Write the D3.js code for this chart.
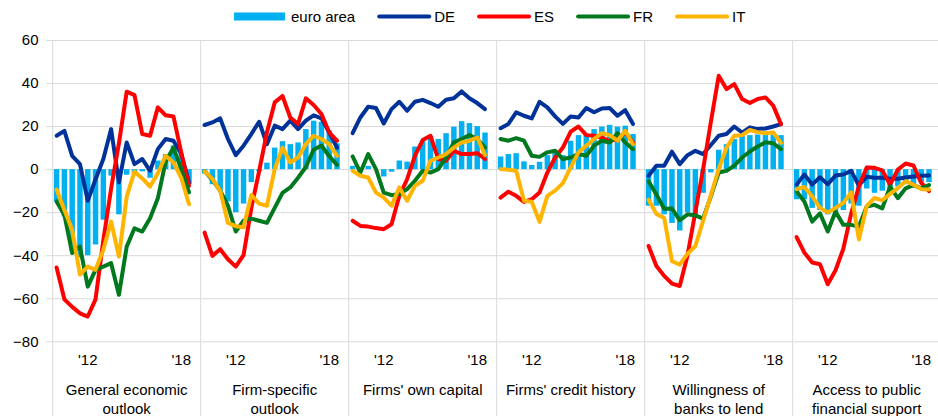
<!DOCTYPE html>
<html><head><meta charset="utf-8">
<script src="https://cdn.jsdelivr.net/npm/d3@7/dist/d3.min.js"></script>
<style>
body{margin:0;background:#fff}
svg{display:block;font-family:"Liberation Sans",Arial,sans-serif}
</style>
</head><body>
<svg id="chart" width="938" height="416"></svg>
<script>
// ---------- data ----------
const panels = ["General economic outlook","Firm-specific outlook","Firms' own capital","Firms' credit history","Willingness of banks to lend","Access to public financial support"];
const panelLabels = [["General economic","outlook"],["Firm-specific","outlook"],["Firms' own capital"],["Firms' credit history"],["Willingness of","banks to lend"],["Access to public","financial support"]];
const periods = ["2010H1","2010H2","2011H1","2011H2","2012H1","2012H2","2013H1","2013H2","2014H1","2014H2","2015H1","2015H2","2016H1","2016H2","2017H1","2017H2","2018H1","2018H2"];
const tickPeriods = ["2012H1","2018H1"];
const tickLabels = ["'12","'18"];
const yTicks = [60,40,20,0,-20,-40,-60,-80];
const seriesNames = ["euro area","DE","ES","FR","IT"];

const euroArea = [
  [-15,-22,-38,-41,-40,-35,-23.5,-3,-21,-2.6,-2,-1,-4,4,7,11,7,-7],
  [-2,-7,-10,-15,-20,-16,-6,-1,3,10,13,11.6,12.4,18.6,22.5,22,18,12],
  [1.5,0.5,1.5,0,-3.4,-1.2,4,3.5,10.5,13,15.5,14,16.7,19.7,22.3,21.4,20,17],
  [5.9,7,7.4,3.6,1.9,3.4,6.5,9,6.5,13.2,15.8,16.3,18.6,19.8,20.6,19.8,20.2,16.3],
  [-17,-17,-21,-25,-28.5,-20,-22,-11,-1.5,9,11.6,14,15.5,15.8,16.1,16,16,15.8],
  [-14,-14,-18,-19,-21,-20,-19,-16,-17,-9,-11,-10,-10,-8,-7,-7,-6,-6]
];
const DE = [
  [15.5,17.8,6.2,2.3,-14.7,-4.7,4.7,18.6,-6.2,12.4,2.3,4.7,-0.8,9.3,14,13.2,7,-6.2],
  [20.5,21.7,23.6,14,6.5,10.9,16.3,22,11.6,20.2,18.6,22.5,18.6,22.5,25,23.6,17,10],
  [16.7,24,29,28.4,21.2,27.9,31.3,27.1,31.3,32.2,30.7,29,32.2,32.9,36.1,32.9,30.7,27.9],
  [19,21,26.4,24.8,23.6,31.3,28.7,24.5,21,24.5,24,28.4,26.4,28.2,28.4,24.8,27.4,21],
  [-3.1,1.6,1.6,8.1,2.3,6.5,8.5,7,11.2,15.5,16.3,19.8,17,19.4,18.6,18.9,19.8,20.9],
  [-7.2,-2.5,-7.2,-3.8,-7,-3,-2.5,-0.8,-7.6,-3.5,-4,-4,-4.5,-4.5,-3.9,-3.4,-3.1,-3]
];
const ES = [
  [-45.7,-60.5,-64,-67,-68.5,-60.5,-33,-9,12,36,34.4,16.3,15.5,28.7,25,24.5,7.8,-7.8],
  [-29.5,-40.3,-37.2,-41.9,-45.3,-40,-18,-1,17,31,34,24,21,32.9,29.8,25.6,17,13.2],
  [-24,-26.4,-26.7,-27.4,-27.9,-25.6,-12.4,-4.7,6.2,13.5,15.5,4.7,3.9,8.5,7,7,7.4,4.7],
  [-13.2,-10.5,-12.4,-15.2,-14,-10.9,-1.6,5.4,10,17.4,19.8,15.8,15.5,14.7,13,14,17,12.4],
  [-35.7,-45,-49.6,-53.2,-54.3,-40,-20,0,22,43.4,37.2,39.5,32.6,30.7,32.6,33.3,29.5,20.9],
  [-31.6,-38.8,-43.4,-44.2,-53.5,-47,-37,-20.7,-8,0.8,0.6,-0.6,-7.2,-0.2,2.6,1.7,-6.4,-10.2]
];
const FR = [
  [-15,-21.3,-39,-36,-54.6,-46.8,-45.3,-43.7,-58.4,-36,-27.5,-29,-22.8,-13.5,3.5,10,0,-10.8],
  [-1,-5,-10,-17,-29,-24,-23,-24,-25,-18,-11,-8.5,-4,1,9,11,6,2],
  [5.9,-1.6,7,0,-10.9,-12.1,-11.6,-9.3,-5.4,-0.8,-1.6,0,5.4,12.4,14,15.8,14,10],
  [14,13.2,14.4,13.2,6.2,5.7,7.8,8.5,4.7,5.4,7,6.2,10.9,13.2,12.4,16.7,12.4,9.3],
  [-5.6,-11.8,-18.4,-18.3,-23.8,-21,-21.5,-23,-12.5,-1.6,-0.8,1.6,5.4,8.2,10.5,12.5,12,9.3],
  [-10.4,-15,-24.4,-20.5,-29,-19.7,-25.9,-25.9,-26.7,-17.4,-16.6,-18.2,-8.1,-13.5,-8.9,-7.4,-8.9,-7.4]
];
const IT = [
  [-9.5,-19,-28.2,-49,-45.3,-46.8,-37.5,-24.4,-40.6,-12.8,-1.1,-4.3,-8.1,-1.9,6.2,3.1,-4,-16.3],
  [-1,-4.5,-10,-25,-26.5,-27,-12,-16,-17,0,10,3.1,5.4,11.6,15.5,14,11.6,6.2],
  [-0.8,-3.1,-3.9,-10.9,-13.2,-17,-8.5,-14.7,-7.8,-5.4,3.9,5.4,7,10,12.4,13.2,14.7,6.5],
  [0,-0.3,-0.8,-14.7,-15.2,-24.5,-12.4,-10,-6.5,0.8,7.8,10.9,14,16.7,15.8,13.2,17.8,11.6],
  [-14.2,-20.8,-22.7,-42.8,-44.4,-39.3,-35.8,-24,-12,0,10,15.5,15.8,18.2,17.2,16.7,17,12.2],
  [-9.3,-8.3,-12.6,-18,-20.1,-18,-15.7,-10.8,-32.7,-17.2,-13.4,-14.5,-11.5,-8.8,-5.6,-7.2,-9.3,-9.5]
];

// ---------- style ----------
const colors = {"euro area":"#00B0F0", DE:"#003299", ES:"#FF0000", FR:"#00781E", IT:"#FFB400"};
const lineSeries = [["DE",DE],["ES",ES],["FR",FR],["IT",IT]];
const gridColor = "#D9D9D9";
const fontSize = 15;

const svg = d3.select("#chart");
const plotLeft = 52.7, plotRight = 940.7, plotTop = 40, plotBottom = 341.3;

const x0 = d3.scaleBand().domain(panels).range([plotLeft, plotRight]);
const x1 = d3.scaleBand().domain([...periods, "gap"]).range([0, x0.bandwidth()]);
const y = d3.scaleLinear().domain([-80, 60]).range([plotBottom, plotTop]);
const cx = (p, per) => x0(p) + x1(per) + x1.bandwidth() / 2;
const barW = x1.bandwidth() * 0.7;

// gridlines + y labels
const yAxis = d3.axisLeft(y).tickValues(yTicks).tickSizeInner(-(plotRight - 46.5)).tickSizeOuter(0).tickPadding(8).tickFormat(d3.format("d"));
const ga = svg.append("g").attr("transform", "translate(46.5,0)").call(yAxis);
ga.select(".domain").remove();
ga.selectAll(".tick line").attr("stroke", gridColor).attr("stroke-width", 1);
ga.selectAll(".tick text").attr("font-size", fontSize).attr("fill", "#000").attr("font-family", "Liberation Sans, Arial, sans-serif");

// panel separators
svg.append("g").selectAll("line").data(panels).join("line")
  .attr("x1", d => x0(d)).attr("x2", d => x0(d))
  .attr("y1", plotTop).attr("y2", 416)
  .attr("stroke", gridColor).attr("stroke-width", 1);

// bars
panels.forEach((p, pi) => {
  svg.append("g").selectAll("rect").data(periods).join("rect")
    .attr("x", per => cx(p, per) - barW / 2)
    .attr("width", barW)
    .attr("y", (per, i) => y(Math.max(0, euroArea[pi][i])))
    .attr("height", (per, i) => Math.abs(y(euroArea[pi][i]) - y(0)))
    .attr("fill", colors["euro area"]);
});

// lines
lineSeries.forEach(([name, data]) => {
  panels.forEach((p, pi) => {
    const line = d3.line().x((v, i) => cx(p, periods[i])).y(v => y(v));
    svg.append("path").datum(data[pi]).attr("d", line)
      .attr("fill", "none").attr("stroke", colors[name]).attr("stroke-width", 4)
      .attr("stroke-linejoin", "round").attr("stroke-linecap", "round");
  });
});

// x tick labels
panels.forEach(p => {
  svg.append("g").selectAll("text").data(tickPeriods).join("text")
    .attr("x", per => cx(p, per)).attr("y", 365)
    .attr("text-anchor", "middle").attr("font-size", fontSize)
    .text((per, i) => tickLabels[i]);
});

// panel labels
panels.forEach((p, pi) => {
  svg.append("g").selectAll("text").data(panelLabels[pi]).join("text")
    .attr("x", x0(p) + x0.bandwidth() / 2).attr("y", (d, i) => 395 + i * 18.5)
    .attr("text-anchor", "middle").attr("font-size", fontSize)
    .text(d => d);
});

// legend
const lg = svg.append("g");
let lx = 234;
seriesNames.forEach(name => {
  if (name === "euro area") {
    lg.append("rect").attr("x", lx).attr("y", 12.5).attr("width", 51).attr("height", 8).attr("fill", colors[name]);
  } else {
    lg.append("line").attr("x1", lx + 2).attr("x2", lx + 52).attr("y1", 16.5).attr("y2", 16.5)
      .attr("stroke", colors[name]).attr("stroke-width", 4).attr("stroke-linecap", "round");
  }
  const t = lg.append("text").attr("x", lx + 57).attr("y", 22).attr("font-size", fontSize).text(name);
  lx += 57 + t.node().getComputedTextLength() + 22;
});
</script>
</body></html>
